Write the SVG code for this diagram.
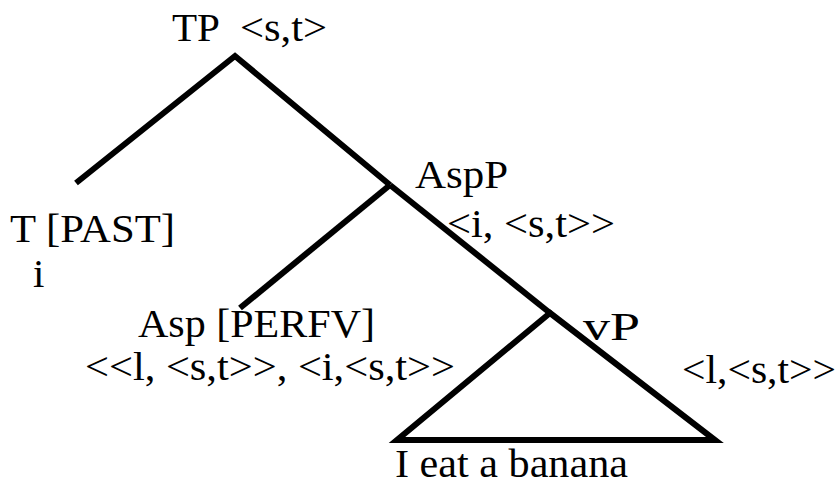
<svg xmlns="http://www.w3.org/2000/svg" width="838" height="485" viewBox="0 0 838 485">
<style>
.t{font-family:"Liberation Serif","DejaVu Serif","Noto Serif","Times New Roman",serif;font-size:41px;fill:#000}
.e{fill:none;stroke:#000;stroke-width:6;stroke-linecap:butt;stroke-linejoin:miter}
</style>
<rect width="838" height="485" fill="#fff"/>
<g id="connectors">
<path class="e" d="M76,183 L235,56 L390,185"/>
<path class="e" d="M390,185 L240,308"/>
<path class="e" d="M390,185 L550,313"/>
</g>
<g id="TP">
<text class="t" x="172" y="41" textLength="48" lengthAdjust="spacingAndGlyphs">TP</text>
<text class="t" x="240" y="41" textLength="87" lengthAdjust="spacingAndGlyphs">&lt;s,t&gt;</text>
</g>
<g id="T">
<text class="t" x="10" y="242" textLength="165" lengthAdjust="spacingAndGlyphs">T [PAST]</text>
<text class="t" x="33" y="287">i</text>
</g>
<g id="AspP">
<text class="t" x="415" y="188" textLength="93" lengthAdjust="spacingAndGlyphs">AspP</text>
<text class="t" x="447" y="237" textLength="168" lengthAdjust="spacingAndGlyphs">&lt;i, &lt;s,t&gt;&gt;</text>
</g>
<g id="Asp">
<text class="t" x="138" y="337" textLength="237" lengthAdjust="spacingAndGlyphs">Asp [PERFV]</text>
<text class="t" x="85" y="380" textLength="370" lengthAdjust="spacingAndGlyphs">&lt;&lt;l, &lt;s,t&gt;&gt;, &lt;i,&lt;s,t&gt;&gt;</text>
</g>
<g id="vP">
<path class="e" d="M550,313 L715,440 L397,440 Z" stroke-width="7"/>
<text class="t" x="583" y="340" textLength="57" lengthAdjust="spacingAndGlyphs">vP</text>
<text class="t" x="682" y="383" textLength="154" lengthAdjust="spacingAndGlyphs">&lt;l,&lt;s,t&gt;&gt;</text>
<text class="t" x="395" y="477" textLength="233" lengthAdjust="spacingAndGlyphs">I eat a banana</text>
</g>
</svg>
